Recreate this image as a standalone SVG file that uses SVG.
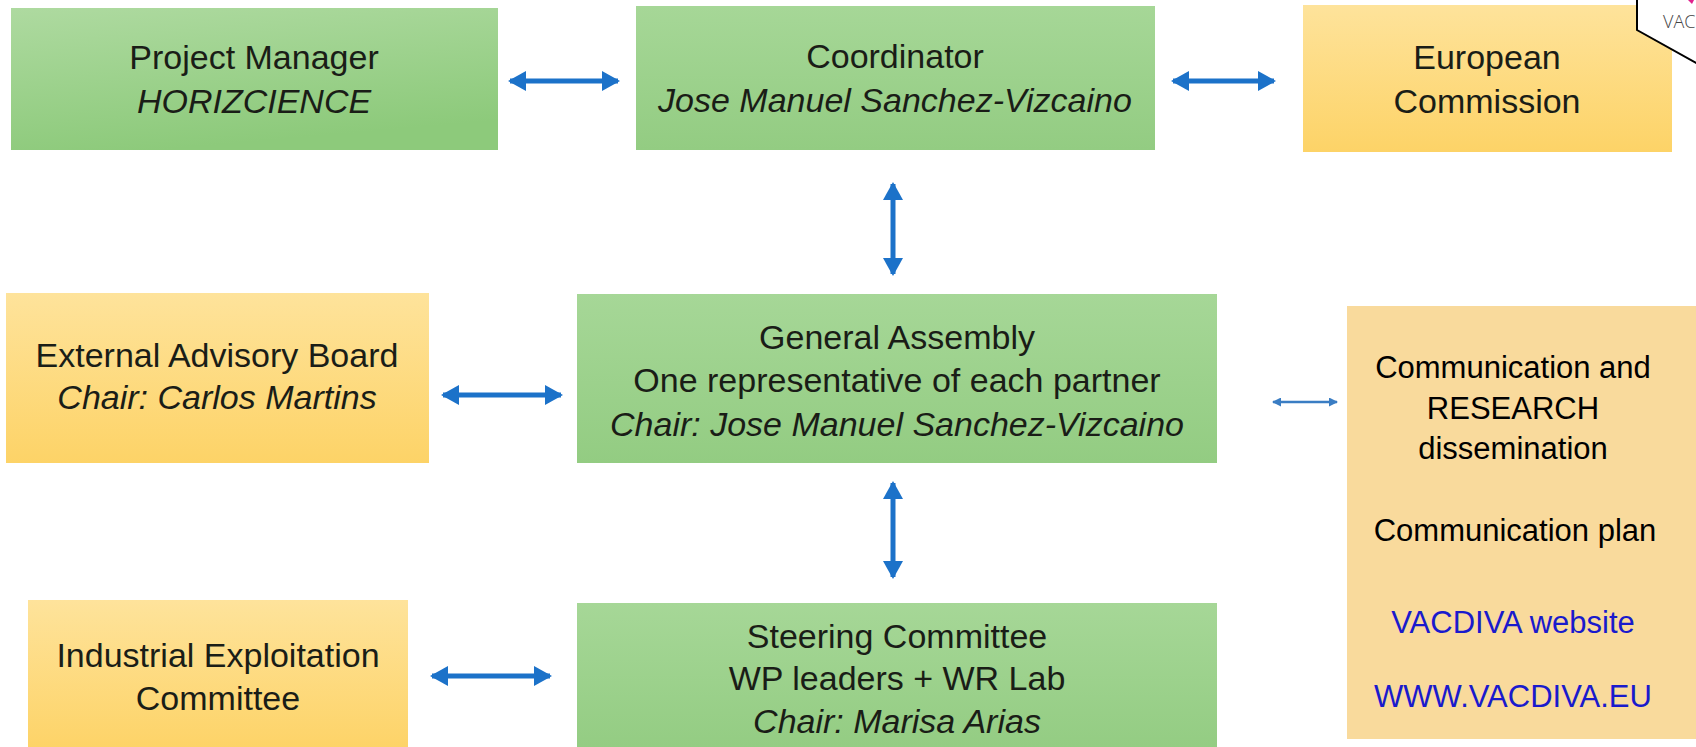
<svg xmlns="http://www.w3.org/2000/svg" width="1696" height="747" viewBox="0 0 1696 747">
<defs>
<linearGradient id="gY" x1="0" y1="0" x2="0" y2="1"><stop offset="0" stop-color="#fee39b"/><stop offset="1" stop-color="#fdd367"/></linearGradient>
<linearGradient id="gG" x1="0" y1="0" x2="0" y2="1"><stop offset="0" stop-color="#a6d797"/><stop offset="1" stop-color="#93cc82"/></linearGradient>
<linearGradient id="gPM" x1="0" y1="0" x2="0.3" y2="1"><stop offset="0" stop-color="#aedaa0"/><stop offset="1" stop-color="#8dca7b"/></linearGradient>
<marker id="ah" markerUnits="userSpaceOnUse" markerWidth="18" markerHeight="20" refX="16" refY="10" orient="auto-start-reverse"><path d="M0,0 L18,10 L0,20 Z" fill="#1c72c9"/></marker>
<marker id="ahs" markerUnits="userSpaceOnUse" markerWidth="9" markerHeight="9" refX="8" refY="4.5" orient="auto-start-reverse"><path d="M0,0 L9,4.5 L0,9 Z" fill="#3a7dc3"/></marker>
</defs>
<style>
.t{font-family:"Liberation Sans",Arial,sans-serif;font-size:34px;fill:#1a1d17;text-anchor:middle}
.i{font-style:italic}
.c{font-family:"Liberation Sans",Arial,sans-serif;font-size:31px;fill:#000;text-anchor:middle}
.b{fill:#1a1acc}
.y{fill:url(#gY)}
.g{fill:url(#gG)}
.a{stroke:#1c72c9;stroke-width:5;fill:none;marker-start:url(#ah);marker-end:url(#ah)}
.as{stroke:#3a7dc3;stroke-width:2.5;fill:none;marker-start:url(#ahs);marker-end:url(#ahs)}
</style>
<rect width="1696" height="747" fill="#ffffff"/>
<g id="pm"><rect x="11" y="8" width="487" height="142" fill="url(#gPM)"/><text class="t" x="254" y="69">Project Manager</text><text class="t i" x="254" y="113">HORIZCIENCE</text></g>
<g id="coord"><rect x="636" y="6" width="519" height="144" class="g"/><text class="t" x="895" y="68">Coordinator</text><text class="t i" x="895" y="112">Jose Manuel Sanchez-Vizcaino</text></g>
<g id="ec"><rect x="1303" y="5" width="369" height="147" class="y"/><text class="t" x="1487" y="69">European</text><text class="t" x="1487" y="113">Commission</text></g>
<g id="eab"><rect x="6" y="293" width="423" height="170" class="y"/><text class="t" x="217" y="367">External Advisory Board</text><text class="t i" x="217" y="409">Chair: Carlos Martins</text></g>
<g id="ga"><rect x="577" y="294" width="640" height="169" class="g"/><text class="t" x="897" y="349">General Assembly</text><text class="t" x="897" y="392">One representative of each partner</text><text class="t i" x="897" y="436">Chair: Jose Manuel Sanchez-Vizcaino</text></g>
<g id="comm"><rect x="1347" y="306" width="349" height="433" fill="#f9da9c"/><text class="c" x="1513" y="378">Communication and</text><text class="c" x="1513" y="419">RESEARCH</text><text class="c" x="1513" y="459">dissemination</text><text class="c" x="1515" y="541">Communication plan</text><text class="c b" x="1513" y="633">VACDIVA website</text><text class="c b" x="1513" y="707">WWW.VACDIVA.EU</text></g>
<g id="iec"><rect x="28" y="600" width="380" height="150" class="y"/><text class="t" x="218" y="667" font-size="35">Industrial Exploitation</text><text class="t" x="218" y="710">Committee</text></g>
<g id="sc"><rect x="577" y="603" width="640" height="150" class="g"/><text class="t" x="897" y="648">Steering Committee</text><text class="t" x="897" y="690">WP leaders + WR Lab</text><text class="t i" x="897" y="733">Chair: Marisa Arias</text></g>
<g id="connectors">
<line class="a" x1="510" y1="81" x2="618" y2="81"/>
<line class="a" x1="1173" y1="81" x2="1274" y2="81"/>
<line class="a" x1="893" y1="184" x2="893" y2="274"/>
<line class="a" x1="443" y1="395" x2="561" y2="395"/>
<line class="as" x1="1273" y1="402" x2="1337" y2="402"/>
<line class="a" x1="893" y1="483" x2="893" y2="577"/>
<line class="a" x1="432" y1="676" x2="550" y2="676"/>
</g>
<g id="callout"><path d="M1637,-3 L1637,30 L1700,65 L1700,-3 Z" fill="#ffffff" stroke="#000" stroke-width="2"/><text x="1663" y="28" font-family="'Open Sans','Liberation Sans',sans-serif" font-size="18" font-weight="300" fill="#444">VAC</text><path d="M1688,0 L1694,0 L1692,4 Z" fill="#e0208c"/></g>
</svg>
